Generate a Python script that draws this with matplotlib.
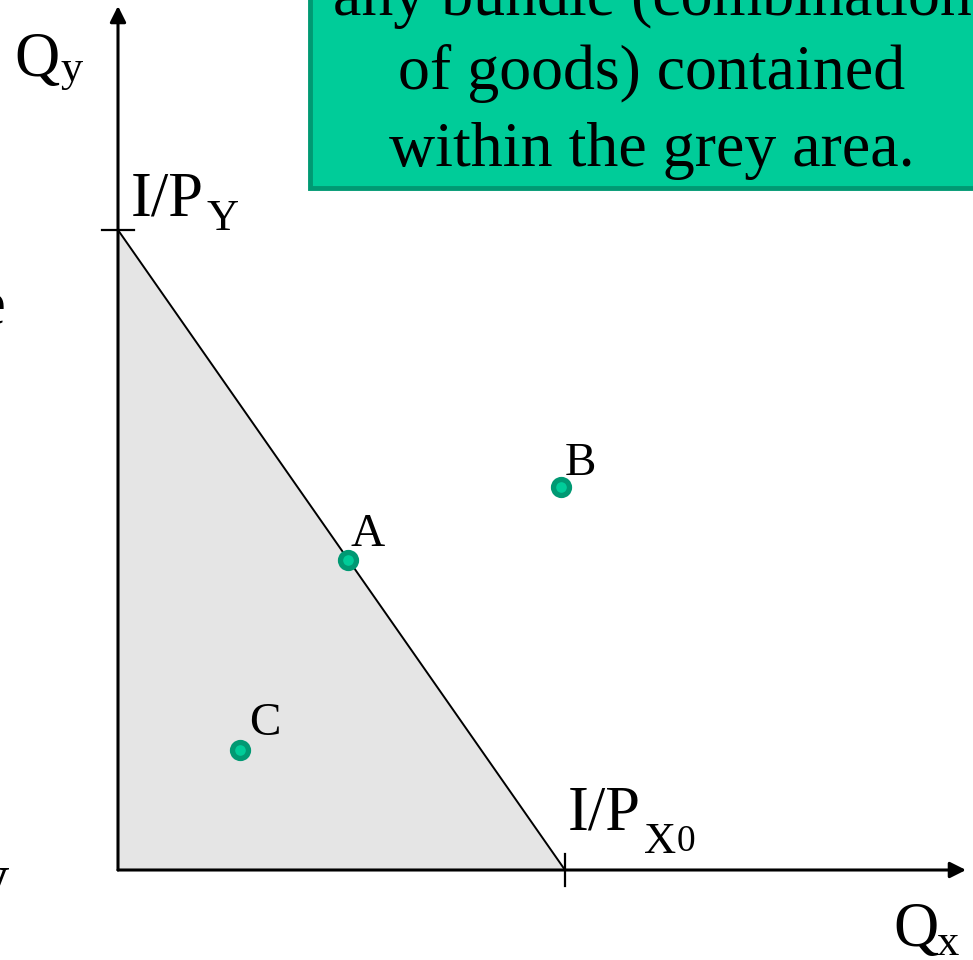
import matplotlib
matplotlib.use("Agg")
import matplotlib.pyplot as plt
from matplotlib.patches import Rectangle, Polygon

plt.rcParams['font.family'] = ['Liberation Serif', 'DejaVu Serif']

# Budget constraint: intercepts I/Px and I/Py
income_over_px = 10.0
income_over_py = 10.0

# Consumption bundles (Qx, Qy)
bundle_names = ["A", "B", "C"]
bundle_qx = [5.15, 9.91, 2.73]
bundle_qy = [4.85, 5.98, 1.88]

note_lines = ["any bundle (combination",
              "of goods) contained",
              "within the grey area."]

# pixel scale of one unit on each axis
SX, SY = 44.7, 64.0
X0, Y0 = 118, 870

fig = plt.figure(figsize=(9.73, 9.60), dpi=100)
ax = fig.add_axes([0, 0, 1, 1])
ax.set_xlim(-X0 / SX, (973 - X0) / SX)
ax.set_ylim(-(960 - Y0) / SY, Y0 / SY)
ax.axis('off')

def px(x, y):
    return (x - X0) / SX, (Y0 - y) / SY

# shaded affordable set
ax.add_patch(Polygon([(0, 0), (income_over_px, 0), (0, income_over_py)],
                     closed=True, facecolor='#e5e5e5', edgecolor='none', zorder=1))
# budget line
ax.plot([0, income_over_px], [income_over_py, 0], color='black', lw=1.4, zorder=3)

# axes with arrowheads
x_tip = px(966, 870)[0]
y_tip = px(118, 6)[1]
ax.annotate('', xy=(x_tip, 0), xytext=(0, 0),
            arrowprops=dict(arrowstyle='-|>', lw=2.2, color='black',
                            mutation_scale=24, shrinkA=0, shrinkB=0), zorder=4)
ax.annotate('', xy=(0, y_tip), xytext=(0, 0),
            arrowprops=dict(arrowstyle='-|>', lw=2.2, color='black',
                            mutation_scale=24, shrinkA=0, shrinkB=0), zorder=4)

# intercept tick marks
tick_half_x = 16 / SX
tick_half_y = 16 / SY
ax.plot([-tick_half_x, tick_half_x], [income_over_py, income_over_py], color='black', lw=1.6, zorder=4)
ax.plot([income_over_px, income_over_px], [-tick_half_y, tick_half_y], color='black', lw=1.6, zorder=4)

# bundles
ax.plot(bundle_qx, bundle_qy, linestyle='none', marker='o', markersize=11.5,
        markerfacecolor='#00cc99', markeredgecolor='#009973', markeredgewidth=3.8, zorder=5)
offsets = {"A": (2, 14), "B": (4, 12), "C": (9, 15)}
for name, qx, qy in zip(bundle_names, bundle_qx, bundle_qy):
    dx, dy = offsets[name]
    ax.annotate(name, xy=(qx, qy), xytext=(dx * 0.72, dy * 0.72), textcoords='offset points',
                fontsize=34, ha='left', va='baseline', zorder=6)

# axis labels and intercept labels (main text + subscript)
fs, fsub = 45, 32
def label(x, y, s, size=fs):
    ax.text(*px(x, y), s, fontsize=size, ha='left', va='baseline')

label(14, 76, 'Q')
label(61, 81, 'y', fsub)
label(893, 946, 'Q')
label(937, 955, 'x', fsub)
label(131, 216, 'I/P')
label(207, 230, 'Y', fsub)
label(568, 830, 'I/P')
label(644, 853, 'X', fsub)
label(677, 851, '0', 27)

# fragments of neighbouring text at the left edge
ax.text(*px(5, 323), 'e', fontsize=fs, ha='right', va='baseline')
ax.text(*px(8, 897), 'y', fontsize=fs, ha='right', va='baseline')

# note box
bx0, by0 = px(310, 188)
bx1, by1 = px(1000, -20)
ax.add_patch(Rectangle((bx0, by0), bx1 - bx0, by1 - by0, facecolor='#00cc99',
                       edgecolor='#009973', lw=3.5, zorder=7))
for line, base in zip(note_lines, [15, 89, 166]):
    ax.text(*px(652, base), line, fontsize=46, ha='center', va='baseline', zorder=8)

fig.savefig('out.png', dpi=100)
